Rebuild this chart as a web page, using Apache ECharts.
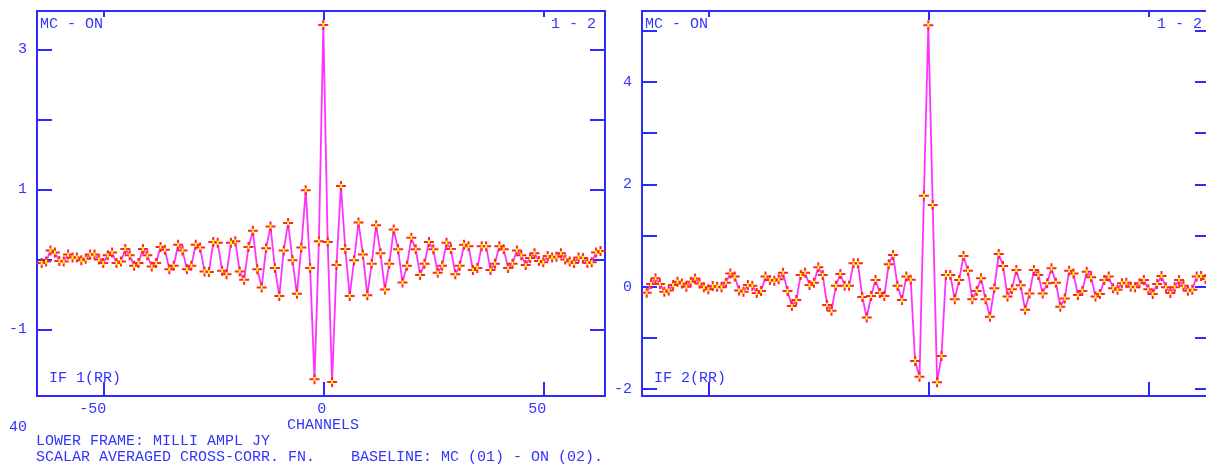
<!DOCTYPE html>
<html>
<head>
<meta charset="utf-8">
<title>POSSM cross-corr</title>
<script src="https://cdn.jsdelivr.net/npm/echarts@6/dist/echarts.min.js"></script>
<style>
html, body { margin: 0; padding: 0; background: #ffffff; }
#main { width: 1206px; height: 466px; }
</style>
</head>
<body>
<div id="main"></div>
<script>
// lag channels, shared by both frames
var channels = [-64,-63,-62,-61,-60,-59,-58,-57,-56,-55,-54,-53,-52,-51,-50,-49,-48,-47,-46,-45,-44,-43,-42,-41,-40,-39,-38,-37,-36,-35,-34,-33,
  -32,-31,-30,-29,-28,-27,-26,-25,-24,-23,-22,-21,-20,-19,-18,-17,-16,-15,-14,-13,-12,-11,-10,-9,-8,-7,-6,-5,-4,-3,-2,-1,
  0,1,2,3,4,5,6,7,8,9,10,11,12,13,14,15,16,17,18,19,20,21,22,23,24,25,26,27,28,29,30,31,
  32,33,34,35,36,37,38,39,40,41,42,43,44,45,46,47,48,49,50,51,52,53,54,55,56,57,58,59,60,61,62,63];

// IF 1 (RR), milli ampl Jy
var if1Amp = [-0.05,-0.03,0.13,0.10,-0.02,-0.03,0.07,0.03,0.03,-0.01,0.01,0.07,0.07,0.00,-0.05,0.06,0.10,-0.05,-0.03,0.15,0.06,-0.09,-0.05,0.15,0.06,-0.10,-0.05,0.18,0.14,-0.14,-0.09,0.21,
  0.13,-0.14,-0.09,0.21,0.17,-0.17,-0.18,0.25,0.24,-0.16,-0.21,0.24,0.26,-0.17,-0.29,0.18,0.41,-0.14,-0.40,0.16,0.47,-0.12,-0.52,0.13,0.52,-0.01,-0.49,0.17,0.99,-0.12,-1.71,0.26,
  3.35,0.25,-1.75,-0.08,1.05,0.15,-0.52,-0.01,0.53,0.07,-0.51,-0.06,0.49,0.09,-0.43,-0.06,0.43,0.145,-0.33,-0.09,0.31,0.145,-0.22,-0.06,0.25,0.145,-0.19,-0.09,0.24,0.15,-0.21,-0.09,
  0.21,0.19,-0.15,-0.12,0.19,0.19,-0.15,-0.06,0.19,0.145,-0.12,-0.06,0.13,0.06,-0.08,0.02,0.09,-0.02,-0.04,0.05,0.03,0.04,0.09,0.00,-0.03,-0.05,0.03,0.02,-0.05,-0.04,0.10,0.12];

// IF 2 (RR)
var if2Amp = [-0.115,0.055,0.166,0.055,-0.095,-0.07,0.033,0.098,0.065,0.0,0.098,0.163,0.065,-0.01,-0.05,0.015,0.0,-0.01,0.08,0.26,0.2,-0.07,-0.095,0.033,0.02,-0.12,-0.08,0.2,0.135,0.12,0.145,0.275,
  -0.08,-0.375,-0.26,0.23,0.275,0.033,0.08,0.38,0.23,-0.355,-0.47,0.02,0.25,0.02,0.02,0.46,0.46,-0.2,-0.6,-0.18,0.135,-0.12,-0.18,0.44,0.62,0.02,-0.26,0.2,0.14,-1.45,-1.755,1.78,
  5.11,1.60,-1.865,-1.35,0.23,0.23,-0.245,0.135,0.60,0.315,-0.245,-0.08,0.165,-0.245,-0.585,-0.03,0.64,0.405,-0.19,-0.05,0.33,0.03,-0.45,-0.13,0.33,0.23,-0.13,0.07,0.36,0.08,-0.39,-0.23,
  0.315,0.26,-0.16,-0.08,0.295,0.185,-0.19,-0.14,0.135,0.2,-0.03,-0.06,0.07,0.08,0.0,-0.01,0.07,0.135,-0.05,-0.14,0.055,0.21,-0.01,-0.12,-0.01,0.135,0.02,-0.075,-0.06,0.2,0.21,0.15];

var xTickVals = [-50, 0, 50];
var xTopTicks = [-50, 50];
var if1Ticks = [-1, 0, 1, 2, 3];
var if1Labels = [-1, 1, 3];
var if2Ticks = [-2, -1, 0, 1, 2, 3, 4, 5];
var if2Labels = [-2, 0, 2, 4];

var BLUE = '#2b2bff';
var TXT = '#3434ff';
var FONT = '"Liberation Mono", "DejaVu Sans Mono", monospace';
var PLUS = 'path://M4,0h2v4h4v2h-4v4h-2v-4h-4v-2h4z';
var VBAR = 'path://M0,0h2v5h-2z';

function pairs(vals) {
  var res = [];
  for (var i = 0; i < channels.length; i++) {
    res.push([channels[i], vals[i]]);
  }
  return res;
}

var myChart = echarts.init(document.getElementById('main'), null, { renderer: 'canvas' });

var grids = [
  { left: 37, top: 11, width: 568, height: 385, show: true, borderColor: BLUE, borderWidth: 2, backgroundColor: 'transparent', outerBoundsMode: 'none', containLabel: false },
  { left: 642, top: 11, width: 568, height: 385, show: true, borderColor: BLUE, borderWidth: 2, backgroundColor: 'transparent', outerBoundsMode: 'none', containLabel: false }
];

function xAxes(g) {
  return [
    { // bottom, labelled
      type: 'value', gridIndex: g, position: 'bottom', min: -65.07, max: 64.02,
      axisLine: { show: false, onZero: false }, splitLine: { show: false },
      axisTick: { show: true, inside: true, length: 14, lineStyle: { color: BLUE, width: 2 }, customValues: xTickVals },
      axisLabel: { show: g === 0, customValues: xTickVals, color: TXT, fontFamily: FONT, fontSize: 15, margin: 6, align: 'right', padding: [0, -3, 0, 0] }
    },
    { // top, short ticks at +-50
      type: 'value', gridIndex: g, position: 'top', min: -65.07, max: 64.02,
      axisLine: { show: false, onZero: false }, splitLine: { show: false }, axisLabel: { show: false },
      axisTick: { show: true, inside: true, length: 6, lineStyle: { color: BLUE, width: 2 }, customValues: xTopTicks }
    },
    { // top, zero lag tick
      type: 'value', gridIndex: g, position: 'top', min: -65.07, max: 64.02,
      axisLine: { show: false, onZero: false }, splitLine: { show: false }, axisLabel: { show: false },
      axisTick: { show: true, inside: true, length: 9, lineStyle: { color: BLUE, width: 2 }, customValues: [0] }
    }
  ];
}

function yAxes(g, min, max, ticks, labels) {
  return [
    {
      type: 'value', gridIndex: g, position: 'left', min: min, max: max,
      axisLine: { show: false, onZero: false }, splitLine: { show: false },
      axisTick: { show: true, inside: true, length: 15, lineStyle: { color: BLUE, width: 2 }, customValues: ticks },
      axisLabel: { show: true, customValues: labels, color: TXT, fontFamily: FONT, fontSize: 15, margin: 10 }
    },
    {
      type: 'value', gridIndex: g, position: 'right', min: min, max: max,
      axisLine: { show: false, onZero: false }, splitLine: { show: false }, axisLabel: { show: false },
      axisTick: { show: true, inside: true, length: 15, lineStyle: { color: BLUE, width: 2 }, customValues: ticks }
    }
  ];
}

function frameSeries(xi, yi, vals) {
  var d = pairs(vals);
  return [
    {
      type: 'line', xAxisIndex: xi, yAxisIndex: yi, data: d, symbol: 'none', animation: false,
      lineStyle: { color: '#ff33ff', width: 1.8 }, z: 2
    },
    {
      type: 'scatter', xAxisIndex: xi, yAxisIndex: yi, data: d, symbol: PLUS, symbolSize: 10, animation: false,
      itemStyle: { color: '#ff2424', opacity: 1 }, z: 3
    },
    {
      type: 'scatter', xAxisIndex: xi, yAxisIndex: yi, data: d, symbol: VBAR, symbolSize: [2, 4], animation: false,
      itemStyle: { color: '#ffff00', opacity: 1 }, z: 4
    }
  ];
}

function label(x, y, text) {
  return { type: 'text', x: x, y: y, z: 10, style: { text: text, fill: TXT, font: '15px ' + FONT, verticalAlign: 'middle' } };
}

var option = {
  backgroundColor: '#ffffff',
  animation: false,
  grid: grids,
  xAxis: xAxes(0).concat(xAxes(1)),
  yAxis: yAxes(0, -1.95, 3.55, if1Ticks, if1Labels).concat(yAxes(1, -2.133, 5.387, if2Ticks, if2Labels)),
  series: frameSeries(0, 0, if1Amp).concat(frameSeries(3, 2, if2Amp)),
  graphic: [
    label(40, 24, 'MC - ON'),
    label(551, 24, '1 - 2'),
    label(49, 378, 'IF 1(RR)'),
    label(645, 24, 'MC - ON'),
    label(1157, 24, '1 - 2'),
    label(654, 378, 'IF 2(RR)'),
    label(287, 425, 'CHANNELS'),
    label(9, 427, '40'),
    label(36, 441, 'LOWER FRAME: MILLI AMPL JY'),
    label(36, 457, 'SCALAR AVERAGED CROSS-CORR. FN.    BASELINE: MC (01) - ON (02).')
  ]
};

myChart.setOption(option);

window.addEventListener('resize', function () {
  myChart.resize();
});
</script>
</body>
</html>
